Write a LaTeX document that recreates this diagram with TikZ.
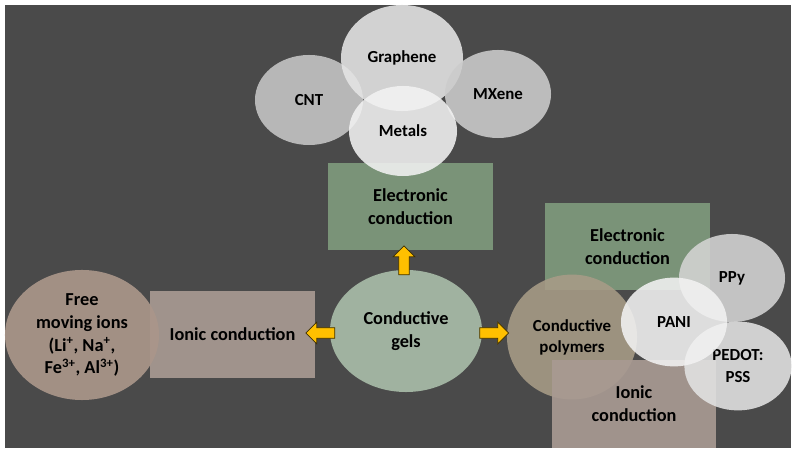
\documentclass[tikz,border=0pt]{standalone}
\usepackage{fontspec}
\setmainfont{Carlito}
\usetikzlibrary{shapes.geometric,shapes.arrows}
\definecolor{slate}{HTML}{4A4A4A}
\definecolor{sage}{HTML}{7F9A7C}
\definecolor{gelgreen}{HTML}{A0B2A0}
\definecolor{taupe}{HTML}{A89A92}
\definecolor{ionbrown}{HTML}{AA968A}
\definecolor{khaki}{HTML}{A89C87}
\definecolor{amber}{HTML}{FFC000}
\definecolor{amberline}{HTML}{3F3000}

\begin{document}
\begin{tikzpicture}[x=0.025cm,y=-0.025cm]
\tikzstyle{every node}=[inner sep=0pt, align=center, text=black, font=\bfseries\fontsize{13}{16.3}\selectfont]
\tikzstyle{blob}=[ellipse, fill opacity=.88, text opacity=1, font=\bfseries\fontsize{12}{15}\selectfont]
\tikzstyle{panel}=[rectangle, fill opacity=.92, text opacity=1, minimum width=4.1cm, minimum height=2.18cm]
\tikzstyle{fatarrow}=[single arrow, draw=amberline, fill=amber, line width=.5pt, inner sep=3.5pt, minimum height=.72cm, single arrow head extend=.14cm]
\useasboundingbox (0,0) rectangle (798,458);
\fill[slate] (5,5) rectangle (791,448);
\draw (309,100) node (cnt) [blob, fill=black!22, minimum width=2.7cm, minimum height=2.25cm] {CNT};
\draw (402,58) node (graphene) [blob, fill=black!10, minimum width=3.05cm, minimum height=2.65cm] {Graphene};
\draw (498,94) node (mxene) [blob, fill=black!20, minimum width=2.65cm, minimum height=2.2cm] {MXene};
\draw (410.5,206.5) node (eltop) [panel, fill=sage] {Electronic\\conduction};
\draw (403,131) node (metals) [blob, fill=black!5, minimum width=2.7cm, minimum height=2.25cm] {Metals};
\draw (406,331) node (gels) [ellipse, fill=gelgreen, minimum width=3.8cm, minimum height=3.05cm] {Conductive\\gels};
\draw (232.5,334.5) node (ionleft) [panel, fill=taupe] {Ionic conduction};
\draw (82,335) node (ions) [ellipse, fill=ionbrown, fill opacity=.92, text opacity=1, minimum width=3.85cm, minimum height=3.25cm] {Free\\moving ions\\(Li\textsuperscript{+}, Na\textsuperscript{+},\\Fe\textsuperscript{3+}, Al\textsuperscript{3+})};
\draw (627.5,246.5) node (elright) [panel, fill=sage] {Electronic\\conduction};
\draw (732,278) node (ppy) [blob, fill=black!17, minimum width=2.65cm, minimum height=2.2cm] {PPy};
\draw (572,337) node (polymers) [blob, fill=khaki, minimum width=3.25cm, minimum height=3.12cm] {Conductive\\polymers};
\draw (634,404) node (ionright) [panel, fill=taupe, minimum width=4.1cm, minimum height=2.2cm] {Ionic\\conduction};
\draw (738,366) node (pedot) [blob, fill=black!11, minimum width=2.68cm, minimum height=2.22cm] {PEDOT:\\PSS};
\draw (674,322) node (pani) [blob, fill=black!5, minimum width=2.65cm, minimum height=2.22cm] {PANI};
\draw (404,263) node (uparrow) [fatarrow, rotate=90] {};
\draw (323,333) node (leftarrow) [fatarrow, rotate=180] {};
\draw (491.5,333) node (rightarrow) [fatarrow] {};
\end{tikzpicture}
\end{document}
